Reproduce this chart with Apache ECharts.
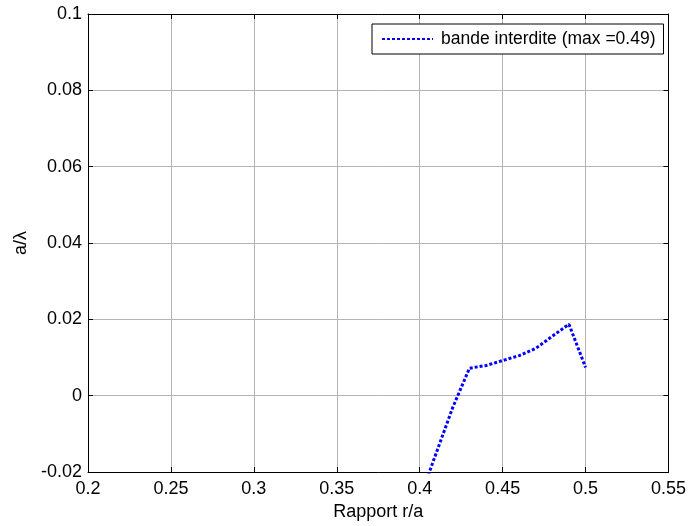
<!DOCTYPE html>
<html>
<head>
<meta charset="utf-8">
<script src="https://cdn.jsdelivr.net/npm/echarts@6/dist/echarts.min.js"></script>
<style>
  html, body { margin: 0; padding: 0; background: #fff; }
  #chart { width: 689px; height: 526px; }
</style>
</head>
<body>
<div id="chart"></div>
<script>
// r/a samples and band gap width a/lambda
const ratio = [0.40, 0.41, 0.42, 0.43, 0.44, 0.45, 0.46, 0.47, 0.48, 0.49, 0.50]
const gap = [-0.027, -0.015, -0.003, 0.0072, 0.0079, 0.0092, 0.0105, 0.0124, 0.0156, 0.0187, 0.0074]

const xTickLabels = ['0.2', '0.25', '0.3', '0.35', '0.4', '0.45', '0.5', '0.55']
const yTickLabels = ['-0.02', '0', '0.02', '0.04', '0.06', '0.08', '0.1']

const seriesName = 'bande interdite (max =0.49)'
const font = '"Liberation Sans", Arial, sans-serif'
const fs = 18

const chart = echarts.init(document.getElementById('chart'))

const xLabel = (v) => xTickLabels[Math.round((v - 0.2) / 0.05)]
const yLabel = (v) => yTickLabels[Math.round((v + 0.02) / 0.02)]

const baseX = {
  type: 'value',
  min: 0.2,
  max: 0.55,
  interval: 0.05,
  axisLine: { show: true, onZero: false, lineStyle: { color: '#000', width: 1 } },
  axisTick: { show: true, inside: true, length: 5, lineStyle: { color: '#000' } },
}
const baseY = {
  type: 'value',
  min: -0.02,
  max: 0.1,
  interval: 0.02,
  axisLine: { show: true, onZero: false, lineStyle: { color: '#000', width: 1 } },
  axisTick: { show: true, inside: true, length: 5, lineStyle: { color: '#000' } },
}

chart.setOption({
  animation: false,
  backgroundColor: '#fff',
  textStyle: { fontFamily: font },
  grid: { left: 88, right: 19, top: 14, bottom: 52 },
  legend: {
    data: [seriesName],
    left: 372,
    top: 24,
    padding: [6, 8, 6, 9],
    itemWidth: 51,
    itemHeight: 14,
    backgroundColor: '#fff',
    borderColor: '#000',
    borderWidth: 1,
    borderRadius: 0,
    itemStyle: { opacity: 0 },
    textStyle: { fontFamily: font, fontSize: 17.5, color: '#000', padding: [0, 0, 0, 3] },
  },
  xAxis: [
    {
      ...baseX,
      position: 'bottom',
      name: 'Rapport r/a',
      nameLocation: 'middle',
      nameGap: 31,
      nameTextStyle: { fontFamily: font, fontSize: fs, color: '#000' },
      axisLabel: { formatter: xLabel, fontFamily: font, fontSize: fs, color: '#000', margin: 8 },
      splitLine: { show: true, lineStyle: { color: '#b4b4b4', width: 1 } },
    },
    {
      ...baseX,
      position: 'top',
      axisLabel: { show: false },
      splitLine: { show: false },
    },
  ],
  yAxis: [
    {
      ...baseY,
      position: 'left',
      name: 'a/λ',
      nameLocation: 'middle',
      nameGap: 55,
      nameTextStyle: { fontFamily: font, fontSize: fs, color: '#000' },
      axisLabel: { formatter: yLabel, fontFamily: font, fontSize: fs, color: '#000', margin: 6 },
      splitLine: { show: true, lineStyle: { color: '#b4b4b4', width: 1 } },
    },
    {
      ...baseY,
      position: 'right',
      axisLabel: { show: false },
      splitLine: { show: false },
    },
  ],
  series: [
    {
      name: seriesName,
      type: 'line',
      xAxisIndex: 0,
      yAxisIndex: 0,
      data: ratio.map((r, i) => [r, gap[i]]),
      showSymbol: false,
      symbol: 'none',
      clip: true,
      lineStyle: { color: '#0000ff', width: 3, type: [3, 2] },
      itemStyle: { color: '#0000ff' },
    },
  ],
})
</script>
</body>
</html>
